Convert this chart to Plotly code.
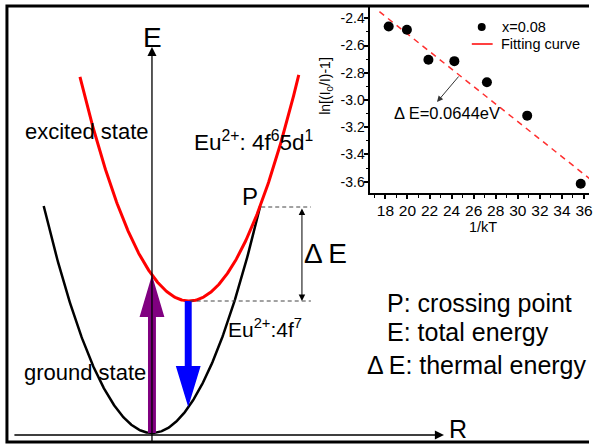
import numpy as np
import plotly.graph_objects as go

# ---------------- inset data ----------------
inv_kT = [18.3, 19.95, 21.9, 24.25, 27.2, 30.85, 35.7]
ln_ratio = [-2.46, -2.485, -2.705, -2.715, -2.87, -3.115, -3.615]
fit_slope = -0.0644
fit_intercept = -1.227
fit_x_span = [17.46, 36.6]
series_name = "x=0.08"
fit_name = "Fitting curve"
x_tick_vals = [18, 20, 22, 24, 26, 28, 30, 32, 34, 36]
x_tick_text = ["18", "20", "22", "24", "26", "28", "30", "32", "34", "36"]
y_tick_vals = [-2.4, -2.6, -2.8, -3.0, -3.2, -3.4, -3.6]
y_tick_text = ["-2.4", "-2.6", "-2.8", "-3.0", "-3.2", "-3.4", "-3.6"]

# ---------------- schematic configuration-coordinate curves ----------------
ground_vertex = [153, 433]
ground_curv = 0.019106
ground_R_span = [44, 262]
excited_vertex = [190.4, 301]
excited_curv = 0.01855
excited_R_span = [80.5, 300.8]

FONT = "Liberation Sans, Arial, sans-serif"

fig = go.Figure()

def parabola(vertex, curv, span):
    r = np.linspace(span[0], span[1], 300)
    return r, vertex[1] - curv * (r - vertex[0]) ** 2

gr, ge = parabola(ground_vertex, ground_curv, ground_R_span)
er, ee = parabola(excited_vertex, excited_curv, excited_R_span)

fig.add_trace(go.Scatter(x=gr, y=ge, mode="lines", line=dict(color="black", width=2.5),
                         xaxis="x", yaxis="y", hoverinfo="skip"))
fig.add_trace(go.Scatter(x=er, y=ee, mode="lines", line=dict(color="#ff0000", width=3),
                         xaxis="x", yaxis="y", hoverinfo="skip"))

# inset traces
fx = np.array(fit_x_span)
fig.add_trace(go.Scatter(x=fx, y=fit_intercept + fit_slope * fx, mode="lines", name=fit_name,
                         line=dict(color="#ff3030", width=1.5, dash="6px,5px"),
                         xaxis="x2", yaxis="y2"))
fig.add_trace(go.Scatter(x=inv_kT, y=ln_ratio, mode="markers", name=series_name,
                         marker=dict(color="black", size=10),
                         xaxis="x2", yaxis="y2"))

shapes = []
# outer frame
shapes.append(dict(type="rect", xref="x", yref="y", x0=7, y0=6, x1=640, y1=442,
                   line=dict(color="black", width=3), layer="above"))
# purple excitation arrow
shapes.append(dict(type="path", xref="x", yref="y",
                   path="M 149,433 L 149,317 L 140.5,317 L 153,275 L 165.5,317 L 157,317 L 157,433 Z",
                   fillcolor="#800080", line=dict(width=0), layer="above"))
# blue emission arrow
shapes.append(dict(type="path", xref="x", yref="y",
                   path="M 186,301 L 186,366 L 177,366 L 189.5,407 L 202,366 L 193,366 L 193,301 Z",
                   fillcolor="#0000ff", line=dict(width=0), layer="above"))
# dashed guide lines
shapes.append(dict(type="line", xref="x", yref="y", x0=263, y0=207, x1=313, y1=207,
                   line=dict(color="#444", width=1, dash="4px,3px")))
shapes.append(dict(type="line", xref="x", yref="y", x0=191, y0=301, x1=313, y1=301,
                   line=dict(color="#444", width=1, dash="4px,3px")))
# manual legend glyphs for inset
shapes.append(dict(type="circle", xref="x", yref="y", x0=481, y0=23, x1=489, y1=31,
                   fillcolor="black", line=dict(width=0)))
shapes.append(dict(type="line", xref="x", yref="y", x0=475, y0=44, x1=496, y1=44,
                   line=dict(color="#ff0000", width=1.5)))

ann = []
def txt(x, y, s, size, xanchor="center", yanchor="middle", angle=0):
    ann.append(dict(x=x, y=y, xref="x", yref="y", text=s, showarrow=False,
                    xanchor=xanchor, yanchor=yanchor, textangle=angle,
                    font=dict(family=FONT, size=size, color="black")))

def arrow(x, y, ax, ay, width=1.2, size=1.5, head=2, side="end", color="black"):
    ann.append(dict(x=x, y=y, ax=ax, ay=ay, xref="x", yref="y", axref="x", ayref="y",
                    text="", showarrow=True, arrowhead=head, arrowsize=size,
                    arrowwidth=width, arrowcolor=color, arrowside=side,
                    startarrowhead=head, startarrowsize=size, standoff=0, startstandoff=0))

# axes of the schematic
arrow(153, 47, 153, 443, width=1.3, size=1.4)
arrow(447, 435, 13, 435, width=1.3, size=1.4)
# Delta E double arrow
arrow(304, 301, 304, 207, width=1, size=1.3, side="end+start")
# inset annotation arrow
arrow(440, 102, 463, 75, width=1, size=1.2, color="#333")

txt(154, 37, "E", 28)
txt(461, 444.5, "R", 25, yanchor="bottom")
txt(23, 131, "excited state", 22, xanchor="left")
txt(193, 141, "Eu<sup>2+</sup>: 4f<sup>6</sup>5d<sup>1</sup>", 22.5, xanchor="left")
txt(252, 196, "P", 24)
txt(328, 253, "\u0394\u2009E", 28)
txt(228, 328, "Eu<sup>2+</sup>:4f<sup>7</sup>", 21, xanchor="left")
txt(22, 372, "ground state", 22, xanchor="left")
txt(388, 303, "P: crossing point", 25, xanchor="left")
txt(388, 332, "E: total energy", 25, xanchor="left")
txt(367, 365, "\u0394\u2009E: thermal energy", 25, xanchor="left")

# inset texts
txt(503, 27, series_name, 14.5, xanchor="left")
txt(502, 44, fit_name, 14.5, xanchor="left")
txt(395, 113, "\u0394 E=0.0644eV", 16.5, xanchor="left")
txt(486, 227, "1/kT", 14.5)
txt(328, 86, "ln[(I<sub>0</sub>/I)-1]", 14, angle=-90)

fig.update_layout(
    width=593, height=445, margin=dict(l=0, r=0, t=0, b=0),
    paper_bgcolor="white", plot_bgcolor="white", showlegend=False,
    font=dict(family=FONT, color="black"),
    shapes=shapes, annotations=ann,
    xaxis=dict(domain=[0, 1], range=[0, 593], visible=False, fixedrange=True),
    yaxis=dict(domain=[0, 1], range=[445, 0], visible=False, fixedrange=True),
    xaxis2=dict(domain=[373 / 593, 1], anchor="y2", range=[16.65, 36.45],
                showline=True, linewidth=2, linecolor="black", showgrid=False, zeroline=False,
                ticks="outside", ticklen=4, tickwidth=1.5, tickcolor="black",
                tickmode="array", tickvals=x_tick_vals, ticktext=x_tick_text,
                ticklabeloverflow="allow", ticklabelstandoff=-2,
                tickfont=dict(family=FONT, size=15.5, color="black"),
                minor=dict(tickmode="linear", tick0=17, dtick=1, ticks="outside",
                           ticklen=2.5, tickwidth=1, tickcolor="black")),
    yaxis2=dict(domain=[1 - 193 / 445, 1 - 6 / 445], anchor="x2", range=[-3.683, -2.31],
                showline=True, linewidth=2, linecolor="black", showgrid=False, zeroline=False,
                ticks="outside", ticklen=4, tickwidth=1.5, tickcolor="black",
                tickmode="array", tickvals=y_tick_vals, ticktext=y_tick_text,
                ticklabelstandoff=-3,
                tickfont=dict(family=FONT, size=14, color="black"),
                minor=dict(tickmode="linear", tick0=-3.7, dtick=0.1, ticks="outside",
                           ticklen=2.5, tickwidth=1, tickcolor="black")),
)

fig.write_html("out.html")
